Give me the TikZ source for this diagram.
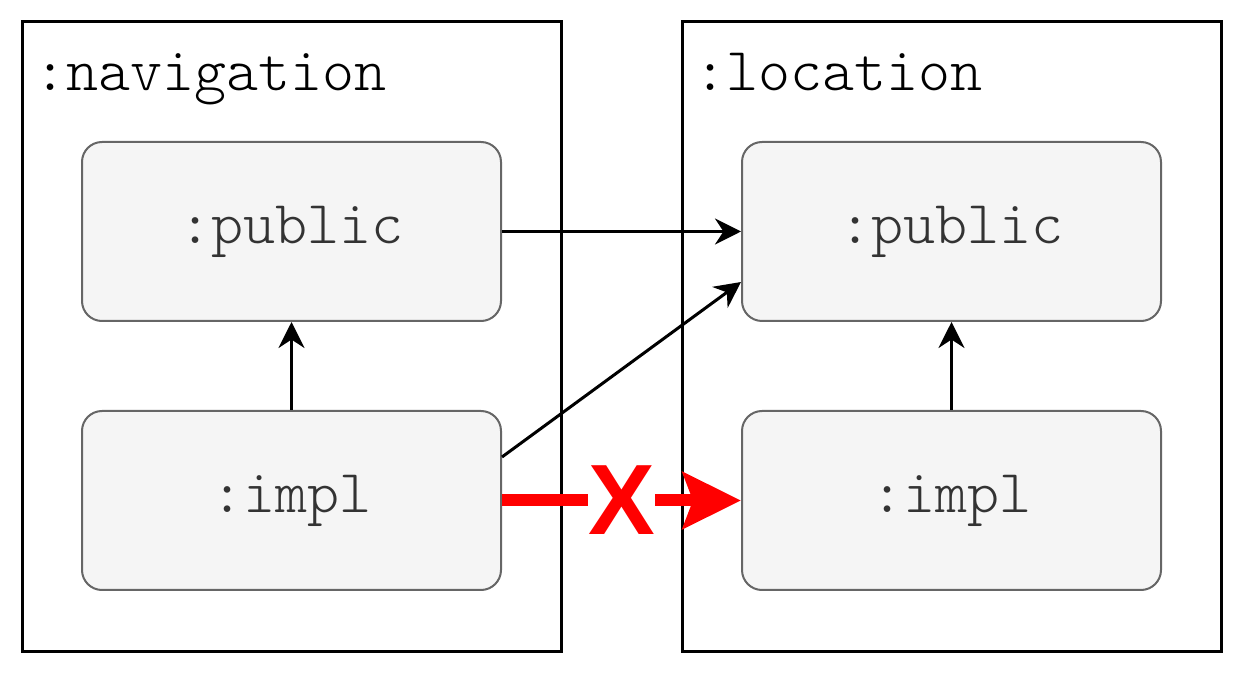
\documentclass[tikz,border=0pt]{standalone}
\usepackage{fontspec}
\setmonofont{Latin Modern Mono Light}
\newfontfamily\xfont{Liberation Sans}
\usetikzlibrary{arrows.meta}

\begin{document}
\begin{tikzpicture}[x=0.5pt,y=-0.5pt,
    module/.style={draw=black,line width=1.5pt,minimum width=269.5pt,minimum height=314.5pt},
    part/.style={draw=black!60,fill=black!4,line width=1pt,rounded corners=10pt,
      minimum width=209.5pt,minimum height=89.5pt,text=black!80,
      font=\ttfamily\fontsize{30.5}{32}\selectfont},
    title/.style={anchor=north west,inner sep=0pt,font=\ttfamily\fontsize{30.5}{32}\selectfont},
    dep/.style={-{Stealth[length=13pt,width=13pt]},line width=1.5pt},
    bad/.style={-{Stealth[length=29pt,width=28pt,inset=5pt]},line width=6pt,red}]
  \useasboundingbox (0,0) rectangle (1243,673);

  % modules
  \node[module] (nav) at (291.5,336.5) {};
  \node[module] (loc) at (951.5,336.5) {};
  \node[title] (navtitle) at (34,53) {:navigation};
  \node[title] (loctitle) at (694,53) {:location};

  % parts
  \node[part] (npub) at (291.5,231.5) {:public};
  \node[part] (nimpl) at (291.5,500.5) {:impl};
  \node[part] (lpub) at (951.5,231.5) {:public};
  \node[part] (limpl) at (951.5,500.5) {:impl};

  % dependencies
  \draw[dep] (npub) -- (lpub);
  \draw[dep] (nimpl) -- (npub);
  \draw[dep] (limpl) -- (lpub);
  \draw[dep] ([yshift=21.75pt]nimpl.east) -- ([yshift=-25.25pt]lpub.west);
  \draw[bad] (nimpl) -- (limpl)
    node[midway,fill=white,inner sep=0pt,text=red,font=\xfont\bfseries\fontsize{50}{50}\selectfont] (cross) {X};
\end{tikzpicture}
\end{document}
